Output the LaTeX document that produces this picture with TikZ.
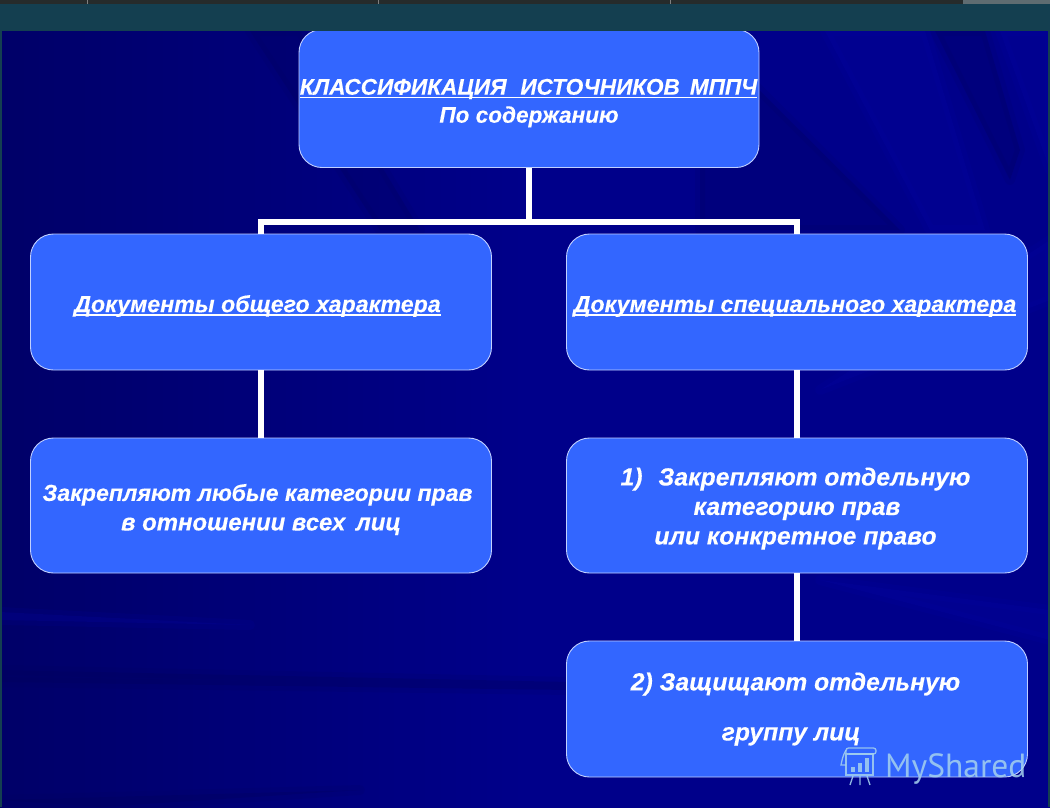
\documentclass[tikz,border=0pt]{standalone}
\usepackage{fontspec}
\setmainfont[BoldItalicFeatures={FakeBold=0.25}]{Liberation Sans}
\newfontfamily\wmfont{PT Sans}
\definecolor{boxblue}{HTML}{3366FF}
\definecolor{navybg}{HTML}{00008A}
\definecolor{darkbg}{HTML}{000068}
\definecolor{raybg}{HTML}{0808B4}
\definecolor{banddark}{HTML}{00005A}
\definecolor{stripteal}{HTML}{143F50}
\definecolor{stripdark}{HTML}{262B2B}
\definecolor{wmblue}{HTML}{A6D2EE}
\newcommand\ulx[1]{\sbox0{#1}\rlap{\rule[-3.6pt]{\wd0}{1.6pt}}\box0}
\newcommand\dn[1]{\rule{0pt}{#1pt}}
\newcommand\fs[1]{\fontsize{#1}{29.5}\selectfont}
\newcommand\mv[1]{\hspace*{#1pt}}
\tikzset{
  box/.style={draw=white!70!boxblue,line width=0.9pt,fill=boxblue,rounded corners=23pt,text=white,
    align=center,font=\fontsize{23.2}{29.5}\selectfont\bfseries\itshape,inner sep=0pt},
  wide/.style={box,minimum width=461pt,minimum height=136pt},
  link/.style={draw=white,line width=6pt},
  ray/.style={fill=raybg,fill opacity=.16,draw=raybg,draw opacity=.1,line width=10pt,line join=round},
  band/.style={fill=banddark,fill opacity=.25,draw=banddark,draw opacity=.12,line width=10pt,line join=round},
  wm/.style={draw=wmblue,line width=1.3pt,opacity=.85},
  wmf/.style={fill=wmblue,opacity=.85}
}
\begin{document}
\begin{tikzpicture}[x=1pt,y=-1pt]
\useasboundingbox (0,0) rectangle (1050,807);
% background
\shade[left color=darkbg,right color=navybg,middle color=navybg] (0,0) rectangle (1050,807);
\fill[band] (0,670) -- (570,682) -- (570,690) -- (0,682) -- cycle;
\fill[band] (0,800) -- (360,790) -- (100,807) -- cycle;
\fill[band] (700,31) -- (900,230) -- (700,230) -- cycle;
\fill[band] (935,31) -- (1010,180) -- (1020,150) -- (985,31) -- cycle;
\fill[band] (300,31) -- (420,230) -- (380,230) -- (250,31) -- cycle;
\fill[ray] (825,31) -- (930,230) -- (985,230) -- (925,31) -- cycle;
\fill[ray] (1000,31) -- (1050,170) -- (1050,31) -- cycle;
\fill[ray] (0,612) -- (250,625) -- (0,620) -- cycle;
\fill[ray] (820,580) -- (1050,640) -- (1050,610) -- cycle;
\fill[ray] (1050,240) -- (820,390) -- (1050,300) -- cycle;
% boxes
\node[box,minimum width=460pt,minimum height=138pt] (title) at (529,98.5)
  {\dn{25}\fs{22.6}\ulx{КЛАССИФИКАЦИЯ\,\, ИСТОЧНИКОВ\, МППЧ}\mv{1}\\[-1.5pt]\fs{22.6}По содержанию};
\node[wide] (gen) at (261,302) {\dn{25}\ulx{Документы общего характера}\mv{7}};
\node[wide] (spec) at (797,302) {\dn{25}\ulx{Документы специального характера}\mv{4}};
\node[wide,minimum height=135pt] (genb) at (261,505.5) {\dn{25}\fs{23.1}Закрепляют любые категории прав\mv{7}\\\fs{23.9}в отношении всех\, лиц};
\node[wide,minimum height=135pt,font=\fontsize{24.7}{29.5}\selectfont\bfseries\itshape] (specb) at (797,505.5) {\dn{24}1)\hspace{16pt}Закрепляют отдельную\mv{3}\\категорию прав\mv{3}\\или конкретное право\mv{3}};
\node[wide,font=\fontsize{24.7}{50}\selectfont\bfseries\itshape] (specc) at (797,709) {2) Защищают отдельную\mv{3}\\группу лиц\mv{12}};
% connectors
\coordinate (busL) at (261,222);
\coordinate (busM) at (529,222);
\coordinate (busR) at (797,222);
\draw[link] (gen.north) -- (busL) -- (busR) -- (spec.north);
\draw[link] (title.south) -- (busM);
\draw[link] (gen.south) -- (genb.north);
\draw[link] (spec.south) -- (specb.north);
\draw[link] (specb.south) -- (specc.north);
% top strip
\fill[stripteal] (0,0) rectangle (1050,31);
\fill[stripteal] (0,0) rectangle (2,807);
\fill[stripteal] (1048,0) rectangle (1050,807);
\fill[stripdark] (0,0) rectangle (1050,4);
\fill[gray!70!stripteal] (963,0) rectangle (1050,4);
\foreach \x in {87,378,670} \fill[gray] (\x,0) rectangle (\x+1,4);
% watermark
\node[text=wmblue,opacity=.85,font=\wmfont\fontsize{33.5}{33.5}\selectfont,anchor=base west,inner sep=0pt] (wmtext) at (885,777) {MyShared};
\coordinate (wmA) at (846,754);
\coordinate (wmB) at (873,775);
\draw[wm] (wmA) rectangle (wmB);
\draw[wm,rounded corners=2.5pt] (846,753) -- (846,748) -- (876,748) -- (876,754) -- (849,754);
\draw[wm] (846,750) .. controls (843,755) and (842,760) .. (841,765) -- (846,765);
\fill[wmf] (851,767) rectangle (855,772);
\fill[wmf] (858,763) rectangle (862,772);
\fill[wmf] (865,758) rectangle (869,772);
\draw[wm] (853,776) -- (850,785) (860,776) -- (860,785) (867,776) -- (870,785);
\end{tikzpicture}
\end{document}
